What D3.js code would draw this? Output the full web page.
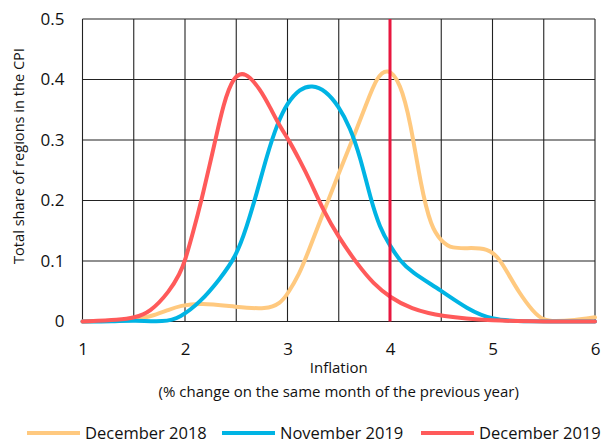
<!DOCTYPE html>
<html>
<head>
<meta charset="utf-8">
<script src="https://cdn.jsdelivr.net/npm/d3@7"></script>
<style>
  body { margin: 0; background: #fff; }
  svg text { font-family: "Open Sans", "Noto Sans", sans-serif; fill: #111; }
</style>
</head>
<body>
<div class="chart"></div>
<script>
// inflation values (x) and share of regions (y)
var dec2018X = [1, 1.5, 1.7, 1.85, 1.95, 2.15, 2.5, 2.8, 2.93, 3.0, 3.12, 3.19, 3.35, 3.5, 3.645, 3.775, 3.87, 3.98, 4.1, 4.2, 4.3, 4.4, 4.5, 4.6, 4.8, 4.95, 5.05, 5.15, 5.25, 5.4, 5.5, 5.6, 5.8, 6.0];
var dec2018Y = [0, 0.002, 0.01, 0.02, 0.026, 0.031, 0.024, 0.02, 0.03, 0.045, 0.08, 0.11, 0.18, 0.245, 0.305, 0.362, 0.404, 0.42, 0.395, 0.33, 0.225, 0.156, 0.133, 0.12, 0.122, 0.12, 0.108, 0.08, 0.05, 0.015, 0.002, 0, 0.002, 0.007];

var nov2019X = [1, 1.3, 1.5, 1.8, 1.95, 2.15, 2.34, 2.5, 2.6, 2.7, 2.8, 2.9, 3.0, 3.12, 3.24, 3.37, 3.5, 3.61, 3.71, 3.81, 3.9, 4.0, 4.1, 4.2, 4.5, 4.75, 5.0, 5.3, 6.0];
var nov2019Y = [0, 0, 0.002, -0.001, 0.006, 0.032, 0.07, 0.108, 0.155, 0.212, 0.275, 0.327, 0.362, 0.385, 0.391, 0.382, 0.356, 0.321, 0.272, 0.203, 0.155, 0.125, 0.1, 0.083, 0.051, 0.021, 0.002, 0, 0];

var dec2019X = [1, 1.37, 1.5, 1.66, 1.85, 1.95, 2.0, 2.08, 2.16, 2.245, 2.29, 2.375, 2.47, 2.587, 2.733, 2.83, 2.93, 3.02, 3.12, 3.22, 3.35, 3.5, 3.68, 3.84, 4.0, 4.2, 4.5, 5.0, 5.5, 6.0];
var dec2019Y = [0, 0.003, 0.006, 0.015, 0.05, 0.079, 0.1, 0.148, 0.2, 0.262, 0.295, 0.36, 0.405, 0.414, 0.384, 0.354, 0.321, 0.298, 0.266, 0.233, 0.183, 0.139, 0.095, 0.062, 0.04, 0.021, 0.008, 0.001, 0, 0];

var seriesNames = ["December 2018", "November 2019", "December 2019"];
var seriesColors = ["#FFC97F", "#00B4E4", "#FF5A5A"];
var xTicks = [1, 2, 3, 4, 5, 6];
var yTicks = [0, 0.1, 0.2, 0.3, 0.4, 0.5];
var xGrid = [1, 1.5, 2, 2.5, 3, 3.5, 4, 4.5, 5, 5.5, 6];
var markerX = 4;

var w = 606, h = 444;
var margin = {left: 82.5, right: 11, top: 19, bottom: 122.5};

var svg = d3.select(".chart").append("svg")
    .attr("width", w)
    .attr("height", h);

var x = d3.scaleLinear().domain([1, 6]).range([margin.left, w - margin.right]);
var y = d3.scaleLinear().domain([0, 0.5]).range([h - margin.bottom, margin.top]);

// grid
svg.append("g").selectAll("line").data(xGrid).enter().append("line")
    .attr("x1", function(d) { return x(d); }).attr("x2", function(d) { return x(d); })
    .attr("y1", y(0)).attr("y2", y(0.5))
    .attr("stroke", "#222").attr("stroke-width", 1.1);
svg.append("g").selectAll("line").data(yTicks).enter().append("line")
    .attr("x1", x(1)).attr("x2", x(6))
    .attr("y1", function(d) { return y(d); }).attr("y2", function(d) { return y(d); })
    .attr("stroke", "#222").attr("stroke-width", 1.1);

// tick labels
var xAxis = svg.append("g").attr("transform", "translate(0," + (y(0) + 18) + ")")
    .call(d3.axisBottom(x).tickValues(xTicks).tickSize(0).tickFormat(d3.format("d")));
xAxis.select(".domain").remove();
xAxis.selectAll("text").attr("font-size", "17px").attr("dy", "0.71em")
    .style("font-family", "\"Open Sans\", sans-serif");

var yAxis = svg.append("g").attr("transform", "translate(" + (x(1) - 15) + ",0)")
    .call(d3.axisLeft(y).tickValues(yTicks).tickSize(0).tickFormat(function(d) { return d === 0 ? "0" : d3.format(".1f")(d); }));
yAxis.select(".domain").remove();
yAxis.selectAll("text").attr("font-size", "17px")
    .style("font-family", "\"Open Sans\", sans-serif");

// curves
var datasets = [
  d3.zip(dec2018X, dec2018Y),
  d3.zip(nov2019X, nov2019Y),
  d3.zip(dec2019X, dec2019Y)
];
var line = d3.line()
    .x(function(d) { return x(d[0]); })
    .y(function(d) { return y(d[1]); })
    .curve(d3.curveBasis);

svg.append("g").selectAll("path").data(datasets).enter().append("path")
    .attr("d", line)
    .attr("fill", "none")
    .attr("stroke", function(d, i) { return seriesColors[i]; })
    .attr("stroke-width", 4)
    .attr("stroke-linejoin", "round")
    .attr("stroke-linecap", "round");

// vertical marker at 4%
svg.append("line")
    .attr("x1", x(markerX)).attr("x2", x(markerX))
    .attr("y1", y(0)).attr("y2", y(0.5))
    .attr("stroke", "#E8173F").attr("stroke-width", 3);

// axis titles
svg.append("text")
    .attr("x", (x(1) + x(6)) / 2).attr("y", 373)
    .attr("text-anchor", "middle").attr("font-size", "15px")
    .text("Inflation");
svg.append("text")
    .attr("x", (x(1) + x(6)) / 2).attr("y", 397)
    .attr("text-anchor", "middle").attr("font-size", "15px")
    .text("(% change on the same month of the previous year)");
svg.append("text")
    .attr("transform", "translate(24,156) rotate(-90)")
    .attr("text-anchor", "middle").attr("font-size", "14.6px")
    .text("Total share of regions in the CPI");

// legend
var legendX = [27, 222, 421];
var lg = svg.append("g").selectAll("g").data(seriesNames).enter().append("g")
    .attr("transform", function(d, i) { return "translate(" + legendX[i] + ",433)"; });
lg.append("line")
    .attr("x1", 0).attr("x2", 53).attr("y1", 0).attr("y2", 0)
    .attr("stroke", function(d, i) { return seriesColors[i]; })
    .attr("stroke-width", 4);
lg.append("text")
    .attr("x", 58).attr("y", 0).attr("dy", "0.35em")
    .attr("font-size", "16.5px")
    .text(function(d) { return d; });
</script>
</body>
</html>
